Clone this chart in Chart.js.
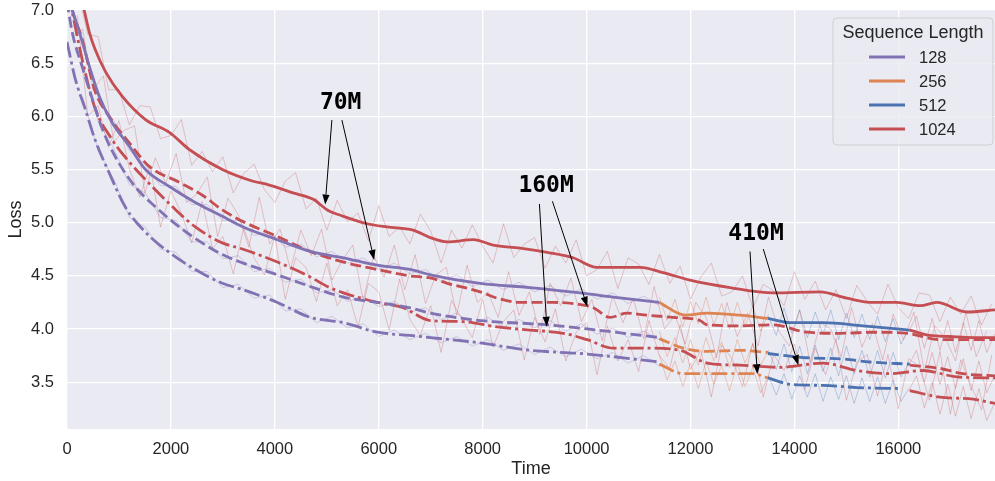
<!DOCTYPE html>
<html><head><meta charset="utf-8">
<script src="https://cdn.jsdelivr.net/npm/chart.js@4.4.1/dist/chart.umd.min.js"></script>
<style>html,body{margin:0;padding:0;background:#fff}#wrap{width:995px;height:481px}</style>
</head><body><div id="wrap"><canvas id="c"></canvas></div>
<script>
// ---------- categories / legend ----------
const seqLengths = ['128', '256', '512', '1024'];
const seqColors = ['#8172B3', '#DD8452', '#4C72B0', '#C44E52'];
const xTicks = [0, 2000, 4000, 6000, 8000, 10000, 12000, 14000, 16000];
const yTicks = [3.5, 4.0, 4.5, 5.0, 5.5, 6.0, 6.5, 7.0];

// ---------- 70M (solid) ----------
const tPurpleSolid = [0, 240, 430, 620, 870, 1200, 1510, 1970, 2470, 2990, 3390, 4050, 4680, 5320, 5970, 6600, 6990, 7950, 8910, 9880, 10510, 11400];
const vPurpleSolid = [7.15, 6.79, 6.47, 6.19, 5.94, 5.72, 5.50, 5.34, 5.19, 5.06, 4.96, 4.84, 4.73, 4.67, 4.60, 4.56, 4.51, 4.43, 4.39, 4.34, 4.30, 4.25];
const tOrangeSolid = [11400, 11900, 12320, 12950, 13490];
const vOrangeSolid = [4.25, 4.13, 4.15, 4.13, 4.10];
const tBlueSolid = [13490, 13920, 14550, 15320, 16220];
const vBlueSolid = [4.10, 4.06, 4.06, 4.03, 3.99];
const tRedTailSolid = [16220, 16610, 16990, 17440, 17860];
const vRedTailSolid = [3.99, 3.94, 3.93, 3.92, 3.92];
const tRedSolid = [260, 330, 430, 540, 740, 1060, 1510, 1970, 2350, 2990, 3580, 3850, 4350, 4740, 5010, 5320, 5780, 6160, 6660, 6990, 7320, 7820, 8200, 8720, 9240, 9740, 10200, 10510, 11030, 11470, 11990, 12760, 13590, 14490, 15010, 15510, 15970, 16420, 16740, 17320, 17860];
const vRedSolid = [7.15, 7.0, 6.79, 6.63, 6.42, 6.19, 5.97, 5.85, 5.69, 5.50, 5.39, 5.36, 5.28, 5.22, 5.12, 5.06, 4.99, 4.96, 4.93, 4.86, 4.82, 4.84, 4.79, 4.76, 4.72, 4.67, 4.58, 4.58, 4.58, 4.53, 4.46, 4.39, 4.34, 4.35, 4.29, 4.25, 4.25, 4.22, 4.25, 4.16, 4.18];

// ---------- 160M (dashed) ----------
const tPurpleDash = [0, 100, 290, 490, 680, 930, 1310, 1700, 2160, 2600, 2990, 3390, 4050, 4680, 5320, 5970, 6600, 6990, 7950, 9240, 10200, 11400];
const vPurpleDash = [7.08, 6.79, 6.47, 6.16, 5.88, 5.62, 5.34, 5.15, 4.96, 4.81, 4.70, 4.62, 4.51, 4.40, 4.30, 4.25, 4.20, 4.15, 4.08, 4.04, 3.99, 3.92];
const tOrangeDash = [11400, 11860, 12320, 12950, 13490];
const vOrangeDash = [3.91, 3.82, 3.79, 3.80, 3.78];
const tBlueDash = [13490, 14240, 14880, 15450, 16220];
const vBlueDash = [3.77, 3.73, 3.72, 3.69, 3.67];
const tRedTailDash = [16220, 16800, 17240, 17860];
const vRedTailDash = [3.66, 3.63, 3.58, 3.56];
const tRedDash = [40, 100, 290, 530, 810, 1200, 1580, 2160, 2600, 2990, 3390, 4050, 4680, 5320, 5970, 6600, 6990, 7320, 7950, 8280, 8720, 9360, 9880, 10130, 10450, 10780, 11160, 11660, 12180, 12320, 12950, 13590, 14240, 14880, 15510, 16170, 16800, 17440, 17860];
const vRedDash = [7.15, 7.0, 6.73, 6.25, 6.00, 5.75, 5.53, 5.38, 5.26, 5.12, 5.01, 4.87, 4.73, 4.63, 4.56, 4.50, 4.48, 4.43, 4.35, 4.29, 4.25, 4.25, 4.23, 4.20, 4.11, 4.15, 4.13, 4.11, 4.08, 4.04, 4.03, 4.04, 3.97, 3.96, 3.97, 3.96, 3.90, 3.90, 3.90];

// ---------- 410M (dash-dot) ----------
const tPurpleDot = [0, 160, 350, 540, 810, 1120, 1510, 1970, 2470, 2990, 3390, 4050, 4680, 5320, 5970, 6600, 6990, 7950, 8910, 9880, 10510, 11400];
const vPurpleDot = [6.70, 6.35, 6.07, 5.78, 5.47, 5.15, 4.91, 4.72, 4.56, 4.43, 4.37, 4.25, 4.11, 4.06, 3.97, 3.94, 3.92, 3.87, 3.80, 3.77, 3.74, 3.69];
const tOrangeDot = [11400, 11860, 12630, 13200, 13490];
const vOrangeDot = [3.67, 3.58, 3.58, 3.58, 3.54];
const tBlueDot = [13490, 13920, 14550, 15200, 16070];
const vBlueDot = [3.54, 3.48, 3.47, 3.45, 3.44];
const tRedTailDot = [16220, 16800, 17440, 17860];
const vRedTailDot = [3.42, 3.36, 3.34, 3.30];
const tRedDot = [20, 100, 290, 530, 870, 1200, 1640, 2030, 2470, 2990, 3390, 4050, 4680, 5010, 5320, 5970, 6470, 6990, 7620, 8280, 8910, 9550, 10010, 10510, 11160, 11800, 12320, 12950, 13720, 14550, 15200, 15840, 16470, 17130, 17860];
const vRedDot = [7.15, 6.98, 6.54, 6.09, 5.78, 5.57, 5.34, 5.15, 4.96, 4.81, 4.75, 4.63, 4.49, 4.40, 4.34, 4.25, 4.20, 4.08, 4.07, 4.02, 3.99, 3.96, 3.90, 3.82, 3.82, 3.80, 3.68, 3.66, 3.64, 3.68, 3.61, 3.58, 3.61, 3.55, 3.54];

// ---------- raw (unsmoothed) losses ----------
const rawT = [200,400,600,800,1000,1200,1400,1600,1800,2000,2200,2400,2600,2800,3000,3200,3400,3600,3800,4000,4200,4400,4600,4800,5000,5200,5400,5600,5800,6000,6200,6400,6600,6800,7000,7200,7400,7600,7800,8000,8200,8400,8600,8800,9000,9200,9400,9600,9800,10000,10200,10400,10600,10800,11000,11200,11400,11600,11800,12000,12200,12400,12600,12800,13000,13200,13400,13600,13800,14000,14200,14400,14600,14800,15000,15200,15400,15600,15800,16000,16200,16400,16600,16800,17000,17200,17400,17600,17800];
const rawTb = [100,300,500,700,900,1100,1300,1500,1700,1900,2100,2300,2500,2700,2900,3100,3300,3500,3700,3900,4100,4300,4500,4700,4900,5100,5300,5500,5700,5900,6100,6300,6500,6700,6900,7100,7300,7500,7700,7900,8100,8300,8500,8700,8900,9100,9300,9500,9700,9900,10100,10300,10500,10700,10900,11100,11300,11500,11700,11900,12100,12300,12500,12700,12900,13100,13300,13500,13700,13900,14100,14300,14500,14700,14900,15100,15300,15500,15700,15900,16100,16300,16500,16700,16900,17100,17300,17500,17700];
const rawRedSolid = [7.20,6.77,6.75,6.25,6.25,5.92,6.10,6.09,5.79,5.82,5.97,5.54,5.67,5.48,5.62,5.28,5.46,5.55,5.31,5.19,5.39,5.47,5.13,5.23,4.93,5.21,5.01,5.09,4.83,5.16,4.87,4.96,4.80,5.08,4.92,4.62,4.93,4.76,4.98,4.78,4.62,4.99,4.67,4.80,4.86,4.57,4.78,4.62,4.84,4.50,4.56,4.73,4.38,4.67,4.61,4.42,4.70,4.43,4.59,4.28,4.49,4.62,4.31,4.35,4.50,4.20,4.42,4.36,4.22,4.54,4.28,4.45,4.18,4.37,4.10,4.41,4.26,4.14,4.42,4.20,4.10,4.34,4.32,4.07,4.30,4.14,4.31,4.04,4.24];
const rawRedDash = [6.75,6.82,6.25,6.38,5.76,5.87,5.91,5.28,5.61,5.37,5.65,5.19,5.27,5.43,4.87,5.23,5.07,4.77,5.24,4.80,4.94,4.56,4.93,4.69,4.94,4.46,4.65,4.79,4.27,4.69,4.49,4.79,4.37,4.70,4.24,4.51,4.58,4.13,4.60,4.25,4.35,4.11,4.54,4.13,4.35,3.95,4.43,4.22,4.48,4.07,4.28,3.89,4.31,4.06,4.29,3.91,4.40,4.00,4.13,3.86,4.25,4.11,3.73,4.25,3.93,4.15,3.84,4.30,3.98,3.84,4.18,3.69,4.06,4.00,3.74,4.20,3.83,4.05,3.71,4.14,3.90,4.16,3.60,4.03,3.92,3.70,4.16,3.74,3.98];
const rawRedDot = [6.95,6.00,6.10,5.71,5.96,5.51,5.24,5.54,4.96,5.30,5.09,4.81,5.20,4.76,4.87,4.52,4.95,4.67,4.51,4.88,4.28,4.67,4.58,4.26,4.62,4.22,4.37,4.02,4.43,4.35,3.99,4.47,4.09,3.94,4.22,3.78,4.27,4.09,3.92,4.28,3.83,4.07,4.18,3.71,4.11,3.88,4.19,3.70,3.97,4.06,3.57,4.03,3.70,3.90,3.60,4.08,3.75,3.63,4.04,3.62,3.80,3.36,3.85,3.72,3.46,3.87,3.36,3.76,3.61,3.86,3.43,3.82,3.57,3.91,3.33,3.69,3.76,3.37,3.76,3.25,3.72,3.65,3.33,3.79,3.20,3.71,3.47,3.24,3.76];
const rawPurpleT = [300,600,900,1200,1500,1800,2100,2400,2700,3000,3300,3600,3900,4200,4500,4800,5100,5400,5700,6000,6300,6600,6900,7200,7500,7800,8100,8400,8700,9000,9300,9600,9900,10200,10500,10800,11100,11400];
const rawPurpleSolid = [6.72,6.18,5.96,5.68,5.55,5.35,5.34,5.17,5.17,5.02,5.02,4.88,4.91,4.77,4.80,4.68,4.73,4.62,4.67,4.56,4.62,4.52,4.56,4.45,4.51,4.40,4.46,4.37,4.44,4.35,4.41,4.31,4.38,4.28,4.34,4.24,4.31,4.22];
const rawPurpleDash = [6.50,5.95,5.70,5.36,5.28,5.05,5.02,4.82,4.82,4.66,4.69,4.54,4.57,4.44,4.47,4.34,4.37,4.26,4.31,4.21,4.26,4.16,4.20,4.09,4.15,4.05,4.11,4.02,4.09,4.01,4.08,3.98,4.05,3.95,4.01,3.92,3.98,3.90];
const rawPurpleDot = [6.18,5.68,5.41,5.05,4.96,4.75,4.72,4.54,4.54,4.39,4.42,4.29,4.32,4.17,4.19,4.06,4.12,4.01,4.05,3.93,3.99,3.90,3.96,3.87,3.93,3.84,3.90,3.80,3.86,3.76,3.83,3.74,3.81,3.72,3.78,3.68,3.75,3.65];
const rawOrangeT = [11400,11550,11700,11850,12000,12150,12300,12450,12600,12750,12900,13050,13200,13350,13500];
const rawOrangeSolid = [4.30,4.08,4.28,4.02,4.26,4.05,4.30,4.04,4.24,4.00,4.25,4.03,4.22,3.98,4.14];
const rawOrangeDash = [3.98,3.74,3.92,3.68,3.90,3.66,3.92,3.70,3.88,3.64,3.90,3.68,3.86,3.66,3.80];
const rawOrangeDot = [3.76,3.52,3.70,3.46,3.68,3.44,3.70,3.48,3.66,3.42,3.68,3.46,3.64,3.40,3.56];
const rawBlueT = [13500,13650,13800,13950,14100,14250,14400,14550,14700,14850,15000,15150,15300,15450,15600,15750,15900,16050,16200];
const rawBlueSolid = [4.12,3.94,4.20,3.96,4.18,3.92,4.16,3.95,4.18,3.90,4.15,3.92,4.14,3.90,4.12,3.88,4.10,3.86,4.00];
const rawBlueDash = [3.80,3.62,3.86,3.60,3.84,3.58,3.85,3.60,3.82,3.56,3.84,3.58,3.80,3.55,3.80,3.54,3.78,3.55,3.68];
const rawBlueDot = [3.56,3.38,3.58,3.34,3.56,3.36,3.58,3.32,3.55,3.34,3.56,3.30,3.54,3.32,3.55,3.30,3.52,3.32,3.44];
const rawTailT = [16200,16350,16500,16650,16800,16950,17100,17250,17400,17550,17700,17850];
const rawTailSolid = [3.98,4.12,3.82,4.10,3.80,4.08,3.78,4.06,3.80,4.08,3.78,3.95];
const rawTailDash = [3.66,3.80,3.50,3.78,3.48,3.74,3.44,3.72,3.42,3.70,3.40,3.56];
const rawTailDot = [3.42,3.56,3.26,3.50,3.20,3.48,3.18,3.46,3.16,3.44,3.14,3.30];

// ---------- annotations ----------
const annoText = ['70M', '160M', '410M'];
const annoX = [5267, 9221, 13261];
const annoY = [6.123, 5.349, 4.896];
const arrowFromX = [5098, 5291, 9092, 9342, 13145, 13401];
const arrowFromY = [5.965, 5.965, 5.176, 5.201, 4.729, 4.752];
const arrowToX = [4969, 5912, 9234, 10015, 13286, 14075];
const arrowToY = [5.17, 4.65, 4.022, 4.21, 3.575, 3.66];

// ---------- build ----------
const FONT = '"Liberation Sans", Arial, sans-serif';
const TXT = '#262626';
const DASH = [11, 4.5];
const DOT = [16, 4, 3, 4];
const pts = (T, V) => T.map((t, i) => ({x: t, y: V[i]}));
function line(T, V, color, dash) {
  return {data: pts(T, V), borderColor: color, borderWidth: 2.8, borderDash: dash, pointRadius: 0,
    fill: false, cubicInterpolationMode: 'monotone', order: 0};
}
function raw(T, V, color) {
  return {data: pts(T, V), borderColor: color, borderWidth: 1, pointRadius: 0, fill: false, tension: 0, order: 5};
}
const [P, O, B, R] = seqColors;
const rawRed = 'rgba(196,78,82,0.3)', rawOr = 'rgba(221,132,82,0.38)', rawBl = 'rgba(76,114,176,0.32)', rawPu = 'rgba(129,114,179,0.3)';
const datasets = [
  line(tRedSolid, vRedSolid, R, []),
  line(tPurpleSolid, vPurpleSolid, P, []),
  line(tOrangeSolid, vOrangeSolid, O, []),
  line(tBlueSolid, vBlueSolid, B, []),
  line(tRedTailSolid, vRedTailSolid, R, []),
  line(tRedDash, vRedDash, R, DASH),
  line(tPurpleDash, vPurpleDash, P, DASH),
  line(tOrangeDash, vOrangeDash, O, DASH),
  line(tBlueDash, vBlueDash, B, DASH),
  line(tRedTailDash, vRedTailDash, R, DASH),
  line(tRedDot, vRedDot, R, DOT),
  line(tPurpleDot, vPurpleDot, P, DOT),
  line(tOrangeDot, vOrangeDot, O, DOT),
  line(tBlueDot, vBlueDot, B, DOT),
  line(tRedTailDot, vRedTailDot, R, DOT),
  raw(rawT, rawRedSolid, rawRed),
  raw(rawTb, rawRedDash, rawRed),
  raw(rawT, rawRedDot, rawRed),
  raw(rawPurpleT, rawPurpleSolid, rawPu),
  raw(rawPurpleT, rawPurpleDash, rawPu),
  raw(rawPurpleT, rawPurpleDot, rawPu),
  raw(rawOrangeT, rawOrangeSolid, rawOr),
  raw(rawOrangeT, rawOrangeDash, rawOr),
  raw(rawOrangeT, rawOrangeDot, rawOr),
  raw(rawBlueT, rawBlueSolid, rawBl),
  raw(rawBlueT, rawBlueDash, rawBl),
  raw(rawBlueT, rawBlueDot, rawBl),
  raw(rawTailT, rawTailSolid, rawRed),
  raw(rawTailT, rawTailDash, rawRed),
  raw(rawTailT, rawTailDot, rawRed)
];

const bgPlugin = {
  id: 'bg',
  beforeDraw(chart) {
    const {ctx, chartArea: a} = chart;
    ctx.save();
    ctx.fillStyle = '#ffffff';
    ctx.fillRect(0, 0, chart.width, chart.height);
    ctx.fillStyle = '#EAEAF2';
    ctx.fillRect(a.left, a.top, a.right - a.left, a.bottom - a.top);
    ctx.restore();
  }
};

const annoPlugin = {
  id: 'anno',
  afterDatasetsDraw(chart) {
    const {ctx} = chart, xs = chart.scales.x, ys = chart.scales.y;
    ctx.save();
    ctx.strokeStyle = '#000'; ctx.fillStyle = '#000'; ctx.lineWidth = 1;
    for (let i = 0; i < arrowFromX.length; i++) {
      const x0 = xs.getPixelForValue(arrowFromX[i]), y0 = ys.getPixelForValue(arrowFromY[i]);
      const x1 = xs.getPixelForValue(arrowToX[i]), y1 = ys.getPixelForValue(arrowToY[i]);
      const ang = Math.atan2(y1 - y0, x1 - x0), L = 10, W = 3.6;
      const bx = x1 - L * Math.cos(ang), by = y1 - L * Math.sin(ang);
      ctx.beginPath(); ctx.moveTo(x0, y0); ctx.lineTo(bx, by); ctx.stroke();
      ctx.beginPath();
      ctx.moveTo(x1, y1);
      ctx.lineTo(bx + W * Math.sin(ang), by - W * Math.cos(ang));
      ctx.lineTo(bx - W * Math.sin(ang), by + W * Math.cos(ang));
      ctx.closePath(); ctx.fill();
    }
    ctx.font = 'bold 23px "DejaVu Sans Mono", monospace';
    ctx.textAlign = 'center'; ctx.textBaseline = 'middle';
    for (let i = 0; i < annoText.length; i++) {
      ctx.fillText(annoText[i], xs.getPixelForValue(annoX[i]), ys.getPixelForValue(annoY[i]));
    }
    ctx.restore();
  }
};

const legendPlugin = {
  id: 'seqLegend',
  afterDraw(chart) {
    const {ctx, chartArea: a} = chart;
    const w = 160, h = 127, x = a.right - w - 2, y = a.top + 8;
    ctx.save();
    ctx.beginPath();
    ctx.roundRect(x, y, w, h, 4);
    ctx.fillStyle = 'rgba(234,234,242,0.85)';
    ctx.fill();
    ctx.strokeStyle = 'rgba(204,204,210,0.9)';
    ctx.lineWidth = 1;
    ctx.stroke();
    ctx.fillStyle = TXT;
    ctx.font = '18px ' + FONT;
    ctx.textAlign = 'center'; ctx.textBaseline = 'middle';
    ctx.fillText('Sequence Length', x + w / 2, y + 15);
    ctx.font = '16.5px ' + FONT;
    ctx.textAlign = 'left';
    seqLengths.forEach((lab, i) => {
      const yy = y + 39 + 24 * i;
      ctx.strokeStyle = seqColors[i]; ctx.lineWidth = 2.8;
      ctx.beginPath(); ctx.moveTo(x + 36, yy); ctx.lineTo(x + 72, yy); ctx.stroke();
      ctx.fillStyle = TXT;
      ctx.fillText(lab, x + 86, yy + 1);
    });
    ctx.restore();
  }
};

new Chart(document.getElementById('c'), {
  type: 'line',
  data: {datasets},
  plugins: [bgPlugin, annoPlugin, legendPlugin],
  options: {
    responsive: true, maintainAspectRatio: false, animation: false,
    layout: {padding: {top: 0, left: 0, right: 0, bottom: 0}},
    plugins: {legend: {display: false}, tooltip: {enabled: false}},
    scales: {
      x: {
        type: 'linear', min: 0, max: 17860,
        afterBuildTicks: s => { s.ticks = xTicks.map(v => ({value: v})); },
        afterFit: s => { s.height = 52; s.paddingLeft = 0; s.paddingRight = 0; },
        ticks: {font: {size: 16.5, family: FONT}, color: TXT, padding: 11, maxRotation: 0, callback: v => String(v)},
        grid: {color: '#ffffff', lineWidth: 1.3, drawTicks: false},
        border: {display: false},
        title: {display: true, text: 'Time', color: TXT, font: {size: 18, family: FONT}, padding: {top: 0, bottom: 1}}
      },
      y: {
        type: 'linear', min: 3.06, max: 7.0,
        afterBuildTicks: s => { s.ticks = yTicks.map(v => ({value: v})); },
        afterFit: s => { s.width = 67; s.paddingTop = 10; s.paddingBottom = 0; },
        ticks: {font: {size: 16.5, family: FONT}, color: TXT, padding: 13, callback: v => v.toFixed(1)},
        grid: {color: '#ffffff', lineWidth: 1.3, drawTicks: false},
        border: {display: false},
        title: {display: true, text: 'Loss', color: TXT, font: {size: 18, family: FONT}, padding: {top: 5, bottom: 0}}
      }
    }
  }
});
</script></body></html>
